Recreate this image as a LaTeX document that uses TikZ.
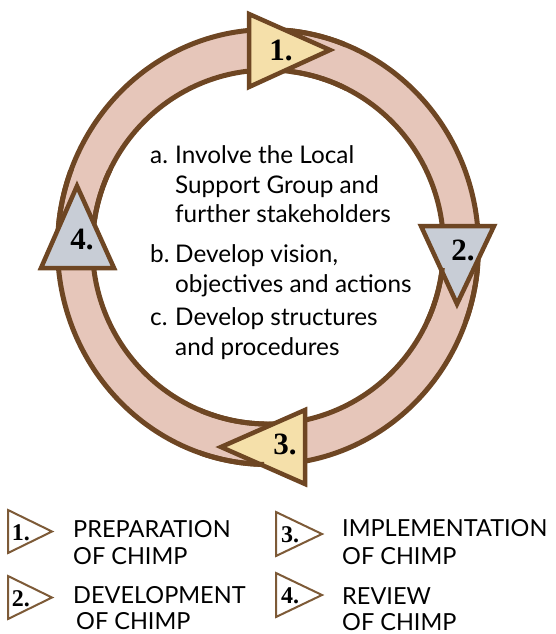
\documentclass[tikz,border=0pt]{standalone}
\usepackage{fontspec}
\setmainfont{Lato}
\newfontfamily\numfont{Liberation Serif}
\definecolor{ringbrown}{RGB}{110,70,35}
\definecolor{ringpink}{RGB}{230,198,186}
\definecolor{triyellow}{RGB}{245,224,170}
\definecolor{trigray}{RGB}{200,205,214}
\definecolor{legbrown}{RGB}{125,90,55}
\tikzset{
  ringline/.style={draw=ringbrown, line width=5pt},
  bigtri/.style={draw=ringbrown, line width=4.5pt, line join=miter},
  bignum/.style={font=\numfont\bfseries\fontsize{31}{31}\selectfont, inner sep=0pt},
  legtri/.style={draw=legbrown, line width=2pt, line join=miter, fill=white},
  legnum/.style={font=\numfont\bfseries\fontsize{24}{24}\selectfont, inner sep=0pt},
  bodytxt/.style={font=\fontsize{24.3}{29}\selectfont, inner sep=0pt, anchor=base west},
  legtxt/.style={font=\fontsize{23.5}{27}\selectfont, inner sep=0pt, anchor=base west},
}
\begin{document}
\begin{tikzpicture}[x=1pt,y=-1pt]
\useasboundingbox (0,0) rectangle (555,634);
\coordinate (c) at (268,247);
% ring
\draw[ringline, fill=ringpink] (c) ellipse [x radius=210.5, y radius=217.5];
\draw[ringline, fill=white] (c) ellipse [x radius=175.5, y radius=177];
% big triangles
\draw[bigtri, fill=triyellow] (249,14) -- (249,87) -- (330,50) -- cycle;
\draw[bigtri, fill=trigray] (421,226) -- (494,226) -- (457,304) -- cycle;
\draw[bigtri, fill=triyellow] (305,410) -- (305,484) -- (221,447) -- cycle;
\draw[bigtri, fill=trigray] (77,186) -- (41,268) -- (114,268) -- cycle;
% ring strokes passing over the triangle tips
\begin{scope}
  \clip (290,0) rectangle (345,100);
  \draw[ringline] (c) ellipse [x radius=210.5, y radius=217.5];
  \draw[ringline] (c) ellipse [x radius=175.5, y radius=177];
\end{scope}
\begin{scope}
  \clip (400,268) rectangle (520,320);
  \draw[ringline] (c) ellipse [x radius=210.5, y radius=217.5];
  \draw[ringline] (c) ellipse [x radius=175.5, y radius=177];
\end{scope}
\begin{scope}
  \clip (200,395) rectangle (264,500);
  \draw[ringline] (c) ellipse [x radius=210.5, y radius=217.5];
  \draw[ringline] (c) ellipse [x radius=175.5, y radius=177];
\end{scope}
\begin{scope}
  \clip (20,170) rectangle (130,222);
  \draw[ringline] (c) ellipse [x radius=210.5, y radius=217.5];
  \draw[ringline] (c) ellipse [x radius=175.5, y radius=177];
\end{scope}
% numbers
\node[bignum] (n1) at (281,50) {1.};
\node[bignum] (n2) at (463,250) {2.};
\node[bignum] (n3) at (285,444) {3.};
\node[bignum] (n4) at (82,240) {4.};
% central text
\node[bodytxt] (la) at (150,163) {a.};
\node[bodytxt] (a1) at (175,163) {Involve the Local};
\node[bodytxt] (a2) at (175,193) {Support Group and};
\node[bodytxt] (a3) at (175,222) {further stakeholders};
\node[bodytxt] (lb) at (150,262) {b.};
\node[bodytxt] (b1) at (175,262) {Develop vision,};
\node[bodytxt] (b2) at (175,292) {objectives and actions};
\node[bodytxt] (lc) at (150,325) {c.};
\node[bodytxt] (c1) at (175,325) {Develop structures};
\node[bodytxt] (c2) at (175,355) {and procedures};
% legend
\draw[legtri] (8,510) -- (8,553) -- (52,531.5) -- cycle;
\node[legnum] (l1) at (21,533) {1.};
\draw[legtri] (8,576) -- (8,619) -- (52,597.5) -- cycle;
\node[legnum] (l2) at (21,599) {2.};
\draw[legtri] (276,512) -- (276,556) -- (322,534) -- cycle;
\node[legnum] (l3) at (290,535) {3.};
\draw[legtri] (276,573) -- (276,617) -- (322,595) -- cycle;
\node[legnum] (l4) at (290,596) {4.};
\node[legtxt] (t1a) at (73,537) {PREPARATION};
\node[legtxt] (t1b) at (73,564) {OF CHIMP};
\node[legtxt] (t2a) at (73,603) {DEVELOPMENT};
\node[legtxt] (t2b) at (76,629) {OF CHIMP};
\node[legtxt] (t3a) at (342,536) {IMPLEMENTATION};
\node[legtxt] (t3b) at (342,564) {OF CHIMP};
\node[legtxt] (t4a) at (342,604) {REVIEW};
\node[legtxt] (t4b) at (342,630) {OF CHIMP};
\end{tikzpicture}
\end{document}
